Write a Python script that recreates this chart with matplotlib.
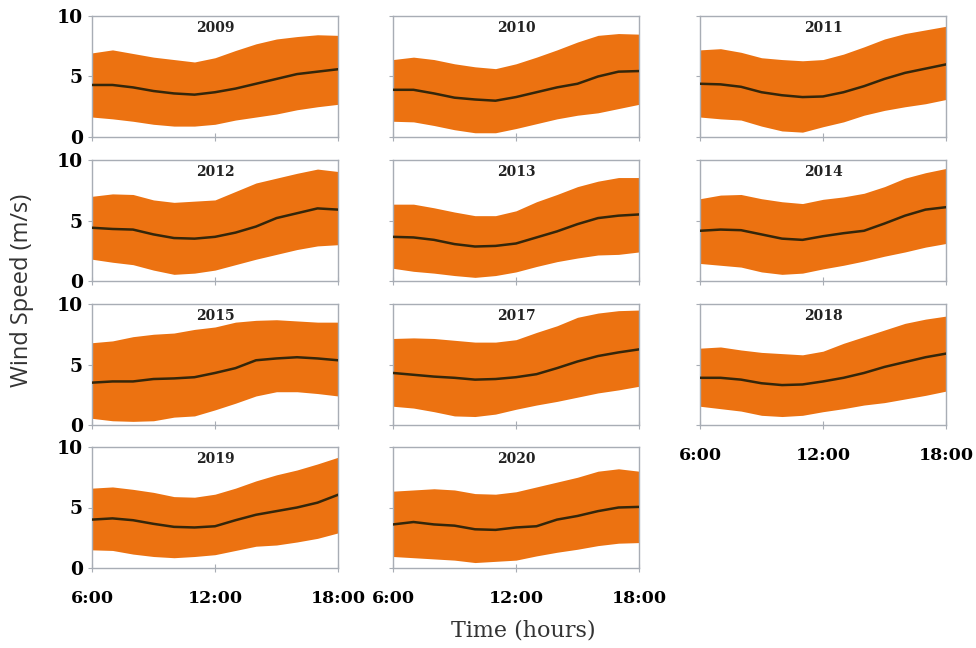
import numpy as np
import matplotlib
matplotlib.use("Agg")
import matplotlib.pyplot as plt

# hourly samples, 6:00 .. 18:00
hours = [6, 7, 8, 9, 10, 11, 12, 13, 14, 15, 16, 17, 18]

years = ["2009", "2010", "2011", "2012", "2013", "2014",
         "2015", "2017", "2018", "2019", "2020"]

mean_speed = {
    "2009": [4.3, 4.3, 4.1, 3.8, 3.6, 3.5, 3.7, 4.0, 4.4, 4.8, 5.2, 5.4, 5.6],
    "2010": [3.9, 3.9, 3.6, 3.25, 3.1, 3.0, 3.3, 3.7, 4.1, 4.4, 5.0, 5.4, 5.45],
    "2011": [4.4, 4.35, 4.15, 3.7, 3.45, 3.3, 3.35, 3.7, 4.2, 4.8, 5.3, 5.65, 6.0],
    "2012": [4.4, 4.3, 4.25, 3.85, 3.55, 3.5, 3.65, 4.0, 4.5, 5.2, 5.6, 6.0, 5.9],
    "2013": [3.65, 3.6, 3.4, 3.05, 2.85, 2.9, 3.1, 3.6, 4.1, 4.7, 5.2, 5.4, 5.5],
    "2014": [4.15, 4.25, 4.2, 3.85, 3.5, 3.4, 3.7, 3.95, 4.15, 4.75, 5.4, 5.9, 6.1],
    "2015": [3.5, 3.6, 3.6, 3.8, 3.85, 3.95, 4.3, 4.7, 5.35, 5.5, 5.6, 5.5, 5.35],
    "2017": [4.3, 4.15, 4.0, 3.9, 3.75, 3.8, 3.95, 4.2, 4.7, 5.25, 5.7, 6.0, 6.25],
    "2018": [3.9, 3.9, 3.75, 3.45, 3.3, 3.35, 3.6, 3.9, 4.3, 4.8, 5.2, 5.6, 5.9],
    "2019": [4.0, 4.1, 3.95, 3.65, 3.4, 3.35, 3.45, 3.95, 4.4, 4.7, 5.0, 5.4, 6.05],
    "2020": [3.6, 3.8, 3.6, 3.5, 3.2, 3.15, 3.35, 3.45, 4.0, 4.3, 4.7, 5.0, 5.05],
}

upper_speed = {
    "2009": [6.95, 7.2, 6.9, 6.6, 6.4, 6.2, 6.55, 7.15, 7.7, 8.1, 8.3, 8.45, 8.4],
    "2010": [6.4, 6.6, 6.4, 6.05, 5.8, 5.65, 6.05, 6.6, 7.2, 7.85, 8.4, 8.55, 8.5],
    "2011": [7.2, 7.3, 7.0, 6.55, 6.4, 6.3, 6.4, 6.85, 7.45, 8.1, 8.55, 8.85, 9.15],
    "2012": [7.0, 7.2, 7.15, 6.7, 6.5, 6.6, 6.7, 7.4, 8.1, 8.5, 8.9, 9.25, 9.05],
    "2013": [6.35, 6.35, 6.05, 5.7, 5.4, 5.4, 5.8, 6.55, 7.15, 7.8, 8.25, 8.55, 8.55],
    "2014": [6.8, 7.1, 7.15, 6.8, 6.55, 6.4, 6.75, 6.95, 7.25, 7.8, 8.5, 8.95, 9.3],
    "2015": [6.8, 6.95, 7.3, 7.5, 7.6, 7.9, 8.1, 8.5, 8.65, 8.7, 8.6, 8.5, 8.5],
    "2017": [7.15, 7.2, 7.15, 7.0, 6.85, 6.85, 7.05, 7.65, 8.2, 8.9, 9.25, 9.45, 9.5],
    "2018": [6.35, 6.45, 6.2, 6.0, 5.9, 5.8, 6.1, 6.75, 7.3, 7.85, 8.4, 8.75, 9.0],
    "2019": [6.6, 6.7, 6.5, 6.25, 5.9, 5.85, 6.1, 6.6, 7.2, 7.7, 8.1, 8.6, 9.15],
    "2020": [6.35, 6.45, 6.55, 6.45, 6.15, 6.1, 6.3, 6.7, 7.1, 7.5, 8.0, 8.2, 8.0],
}

lower_speed = {
    "2009": [1.65, 1.5, 1.3, 1.05, 0.9, 0.9, 1.05, 1.4, 1.65, 1.9, 2.25, 2.5, 2.7],
    "2010": [1.3, 1.25, 0.95, 0.6, 0.35, 0.35, 0.7, 1.1, 1.5, 1.8, 2.0, 2.35, 2.7],
    "2011": [1.65, 1.5, 1.4, 0.9, 0.5, 0.4, 0.85, 1.25, 1.8, 2.2, 2.5, 2.75, 3.1],
    "2012": [1.8, 1.55, 1.35, 0.9, 0.55, 0.65, 0.9, 1.35, 1.8, 2.2, 2.6, 2.9, 3.0],
    "2013": [1.05, 0.8, 0.65, 0.45, 0.3, 0.45, 0.75, 1.2, 1.6, 1.9, 2.15, 2.2, 2.4],
    "2014": [1.45, 1.3, 1.15, 0.75, 0.55, 0.65, 1.0, 1.3, 1.65, 2.05, 2.4, 2.8, 3.1],
    "2015": [0.55, 0.35, 0.3, 0.35, 0.65, 0.75, 1.25, 1.8, 2.4, 2.75, 2.75, 2.6, 2.4],
    "2017": [1.55, 1.4, 1.1, 0.75, 0.7, 0.9, 1.3, 1.65, 1.95, 2.3, 2.65, 2.9, 3.2],
    "2018": [1.55, 1.35, 1.15, 0.8, 0.7, 0.8, 1.1, 1.35, 1.65, 1.85, 2.15, 2.45, 2.8],
    "2019": [1.5, 1.45, 1.15, 0.95, 0.85, 0.95, 1.1, 1.45, 1.8, 1.9, 2.15, 2.45, 2.9],
    "2020": [0.95, 0.85, 0.75, 0.65, 0.45, 0.55, 0.65, 1.0, 1.3, 1.55, 1.85, 2.05, 2.1],
}

x_ticks = [6, 12, 18]
x_labels = ["6:00", "12:00", "18:00"]
y_ticks = [0, 5, 10]

BAND = "#ec7211"
LINE = "#34260a"
SPINE = "#a8adb5"
SERIF = "DejaVu Serif"

W, H = 976, 648
fig = plt.figure(figsize=(W / 100, H / 100), dpi=100)

col_left = [92, 393, 700]
row_top = [16, 160, 304, 447]
ax_w, ax_h = 246, 121

# grid slot of each year: (row, col)
slots = [(0, 0), (0, 1), (0, 2), (1, 0), (1, 1), (1, 2),
         (2, 0), (2, 1), (2, 2), (3, 0), (3, 1)]
labelled_x = {"2018", "2019", "2020"}

for year, (r, c) in zip(years, slots):
    rect = [col_left[c] / W, 1 - (row_top[r] + ax_h) / H, ax_w / W, ax_h / H]
    ax = fig.add_axes(rect)
    ax.fill_between(hours, lower_speed[year], upper_speed[year],
                    color=BAND, lw=0, zorder=2)
    ax.plot(hours, mean_speed[year], color=LINE, lw=1.8, zorder=3)
    ax.set_xlim(6, 18)
    ax.set_ylim(0, 10)
    ax.set_xticks(x_ticks)
    ax.set_yticks(y_ticks)
    for s in ax.spines.values():
        s.set_color(SPINE)
        s.set_linewidth(1.0)
    ax.tick_params(axis="x", direction="inout", length=6, color=SPINE)
    ax.tick_params(axis="y", direction="out", length=3, color=SPINE)
    if year in labelled_x:
        ax.set_xticklabels(x_labels, fontfamily=SERIF, fontweight="bold",
                           fontsize=12.5)
        ax.tick_params(axis="x", pad=13)
    else:
        ax.set_xticklabels([])
    if c == 0:
        ax.set_yticklabels([str(v) for v in y_ticks], fontfamily=SERIF,
                           fontweight="bold", fontsize=13.5)
    else:
        ax.set_yticklabels([])
    ax.text(0.5, 0.9, year, transform=ax.transAxes, ha="center", va="center",
            fontfamily=SERIF, fontweight="bold", fontsize=10, color="#222222",
            zorder=4)

fig.text(22 / W, 1 - 290 / H, "Wind Speed (m/s)", rotation=90,
         ha="center", va="center", fontfamily="Open Sans", fontsize=17,
         color="#333333")
fig.text(523 / W, 1 - 630 / H, "Time (hours)", ha="center", va="center",
         fontfamily=SERIF, fontsize=16, color="#333333")

fig.savefig("out.png", dpi=100)
